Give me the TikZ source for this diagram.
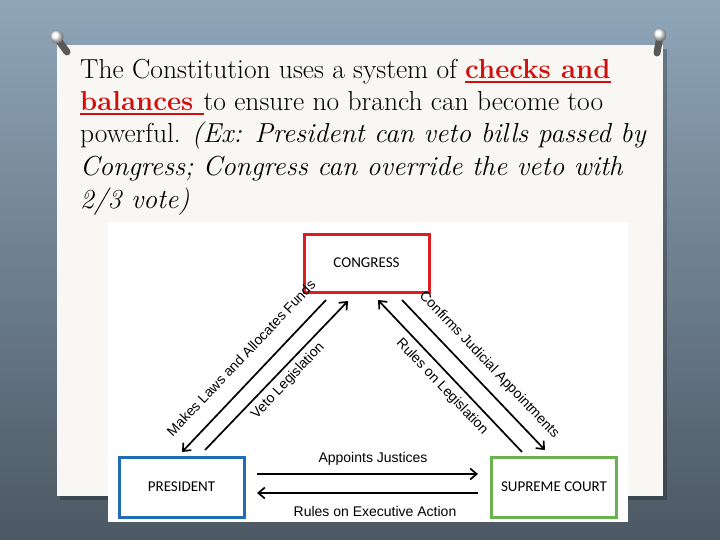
\documentclass[tikz,border=0pt]{standalone}
\usepackage{fontspec}
\newfontfamily\boxfont{Carlito}
\newfontfamily\arrfont{Liberation Sans}
\usetikzlibrary{arrows.meta}
\definecolor{slidetop}{HTML}{8FA6B9}
\definecolor{slidebot}{HTML}{4C5863}
\definecolor{paper}{HTML}{F8F7F3}
\definecolor{hotred}{HTML}{D10F0F}
\definecolor{congred}{HTML}{E01B22}
\definecolor{presblue}{HTML}{1F6DB5}
\definecolor{courtgreen}{HTML}{6AB24E}
\newcommand\chk[1]{{\color{hotred}\bfseries\setbox0\hbox{#1}\rlap{\rule[-4pt]{\wd0}{1.8pt}}\box0}}
\tikzset{
  branch/.style={draw, line width=3pt, fill=white, minimum width=125pt, minimum height=58pt,
    font=\boxfont\fontsize{15}{17}\selectfont},
  arr/.style={line width=1.7pt, -{Straight Barb[length=6.5pt,width=11pt,line width=1.7pt]}},
  lbl/.style={inner sep=0pt, font=\arrfont\fontsize{14}{16}\selectfont},
  txtline/.style={anchor=base west, inner sep=0pt, font=\fontsize{27.5}{32}\selectfont},
  pin/.style={line width=7pt, line cap=round, draw=gray!70!black}
}
\begin{document}
\begin{tikzpicture}[x=1pt,y=-1pt]
\useasboundingbox (0,0) rectangle (720,540);
% slide background and paper
\shade[top color=slidetop, bottom color=slidebot] (0,0) rectangle (720,540);
\fill[black, opacity=0.25] (60,49) rectangle (667,500);
\fill[paper] (57,45) rectangle (663,496);
% pins
\draw[pin] (57,38) -- (67,52);
\shade[ball color=white] (57,37) circle (6.5);
\draw[pin] (660,36) -- (657,53);
\shade[ball color=white] (660,35) circle (6.5);
% heading
\node[txtline] (l1) at (80,79) {The Constitution uses a system of \chk{checks and}};
\node[txtline] (l2) at (80,111) {\chk{balances }to ensure no branch can become too};
\node[txtline] (l3) at (80,143) {powerful. \textit{(Ex: President can veto bills passed by}};
\node[txtline] (l4) at (80,176) {\textit{Congress; Congress can override the veto with}};
\node[txtline] (l5) at (80,208) {\textit{2/3 vote)}};
% chart
\fill[white] (108,222) rectangle (628,522);
\node[branch, draw=congred] (congress) at (366.5,263) {CONGRESS};
\node[branch, draw=presblue, minimum height=60pt] (president) at (181.5,487) {PRESIDENT};
\node[branch, draw=courtgreen, minimum height=60pt] (court) at (554,487) {SUPREME COURT};
\coordinate (mkA) at (326,300);  \coordinate (mkB) at (182,452);
\coordinate (vtA) at (205,450);  \coordinate (vtB) at (348,301);
\coordinate (rlA) at (522,452);  \coordinate (rlB) at (378,300);
\coordinate (cfA) at (402,300);  \coordinate (cfB) at (545,450);
\coordinate (apA) at (257,474);  \coordinate (apB) at (478,474);
\coordinate (exA) at (478,493);  \coordinate (exB) at (257,493);
\draw[arr] (mkA) -- (mkB);
\draw[arr] (vtA) -- (vtB);
\draw[arr] (rlA) -- (rlB);
\draw[arr] (cfA) -- (cfB);
\draw[arr] (apA) -- (apB);
\draw[arr] (exA) -- (exB);
\node[lbl, rotate=46.5] (mk) at (241,358) {Makes Laws and Allocates Funds};
\node[lbl, rotate=46.5] (vt) at (288,381) {Veto Legislation};
\node[lbl, rotate=-46.5] (cf) at (489,365) {Confirms Judicial Appointments};
\node[lbl, rotate=-46.5] (rl) at (442,387) {Rules on Legislation};
\node[lbl] (ap) at (373,459) {Appoints Justices};
\node[lbl] (ex) at (375,511) {Rules on Executive Action};
\end{tikzpicture}
\end{document}
